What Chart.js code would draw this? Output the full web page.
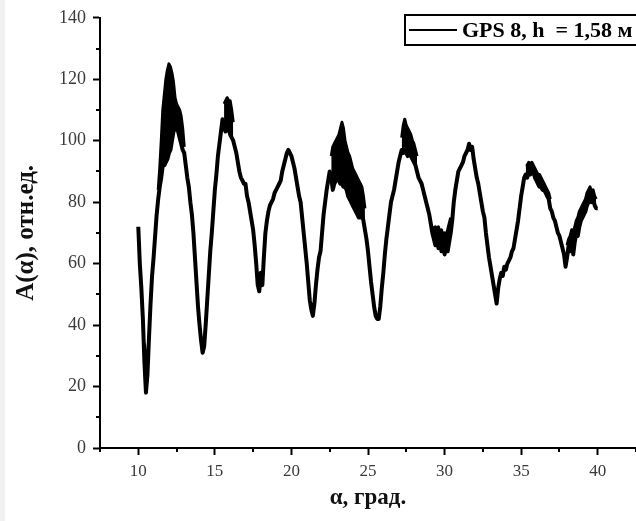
<!DOCTYPE html>
<html>
<head>
<meta charset="utf-8">
<script src="https://cdn.jsdelivr.net/npm/chart.js@4.4.1/dist/chart.umd.min.js"></script>
<style>
  html, body { margin: 0; padding: 0; background: #fff; }
  #wrap { position: relative; width: 636px; height: 521px; }
  #strip { position: absolute; left: 0; top: 0; width: 5px; height: 521px; background: #f1f1f1; }
</style>
</head>
<body>
<div id="wrap">
  <canvas id="chart"></canvas>
  <div id="strip"></div>
</div>
<script>
// угол, град.: от 10 до 40 с шагом 0.1
const angleStart = 10;
const angleStep = 0.1;

// A(α), отн.ед. — основная кривая (по 10 точек на градус)
const amplitude = [
  72, 60, 52, 42, 28, 18, 24, 36, 47, 56,      // 10
  62, 69, 76, 81, 85, 88, 92, 92, 93, 94,      // 11
  96, 97, 100, 103, 104, 105, 103, 101, 99, 97, // 12
  96, 92, 88, 85, 80, 76, 70, 62, 54, 46,      // 13
  40, 35, 31, 33, 40, 48, 56, 64, 70, 77,      // 14
  84, 89, 95, 99, 103, 107, 104, 103, 105, 104, // 15
  102, 101, 100, 98, 96, 93, 90, 88, 87, 86,   // 16
  86, 82, 80, 77, 74, 71, 66, 60, 53, 51,      // 17
  57, 53, 62, 70, 74, 77, 79, 80, 81, 83,      // 18
  84, 85, 86, 87, 90, 92, 94, 96, 97, 96,      // 19
  95, 93, 91, 88, 85, 82, 80, 75, 70, 65,      // 20
  60, 54, 48, 45, 43, 47, 53, 58, 62, 64,      // 21
  70, 76, 80, 84, 87, 90, 88, 84, 86, 87,      // 22
  88, 87, 86, 86, 85, 85, 84, 82, 81, 80,      // 23
  79, 78, 77, 76, 75, 75, 76, 74, 71, 68,      // 24
  64, 59, 54, 50, 46, 43, 42, 42, 46, 52,      // 25
  57, 63, 68, 72, 76, 80, 82, 84, 87, 90,      // 26
  93, 95, 97, 96, 97, 96, 95, 96, 95, 94,      // 27
  93, 92, 90, 88, 87, 86, 84, 82, 80, 78,      // 28
  76, 73, 70, 68, 66, 69, 65, 67, 64, 68,      // 29
  63, 66, 64, 67, 70, 74, 80, 84, 87, 90,      // 30
  91, 92, 93, 95, 96, 97, 99, 97, 98, 94,      // 31
  91, 88, 86, 83, 80, 77, 75, 70, 66, 62,      // 32
  59, 56, 53, 50, 47, 52, 55, 57, 56, 59,      // 33
  58, 60, 61, 62, 64, 65, 68, 71, 74, 78,      // 34
  82, 85, 88, 89, 88, 90, 89, 91, 90, 88,      // 35
  87, 86, 85, 85, 84, 84, 83, 82, 81, 78,      // 36
  77, 75, 74, 72, 70, 69, 67, 65, 63, 59,      // 37
  62, 66, 64, 68, 63, 67, 70, 69, 72, 74,      // 38
  75, 76, 77, 79, 80, 82, 80, 81, 79, 78,      // 39
  78                                           // 40
];

// верхняя граница шумовой полосы (там, где кривая "размыта")
const bandStarts = [10.4, 11.3, 15.6, 22.6, 27.2, 29.2, 35.3, 38.0];
const bandTops = [
  [34, 30, 32],
  [84, 91, 100, 110, 115, 120, 123, 125, 124, 122, 119, 114, 112, 111, 110, 108, 104, 98],
  [112, 113, 114, 113, 113, 110, 106],
  [95, 98, 99, 100, 101, 102, 104, 106, 104, 100, 98, 96, 95, 93, 91, 90, 89, 88, 87, 86, 85, 82, 78],
  [101, 105, 107, 105, 104, 103, 102, 100, 99, 97, 95],
  [72, 71, 72, 71, 72, 70, 71, 69, 70, 69, 71, 73, 75],
  [92, 92, 93, 92, 93, 92, 91, 90, 89, 89, 88, 87, 86, 85, 84, 83, 81],
  [66, 68, 69, 71, 70, 72, 74, 75, 77, 78, 79, 80, 81, 83, 84, 85, 83, 84, 82, 81]
];

const xTicks = [10, 15, 20, 25, 30, 35, 40];
const xMinorTicks = [7.5, 12.5, 17.5, 22.5, 27.5, 32.5, 37.5, 42.5];
const yTicks = [0, 20, 40, 60, 80, 100, 120, 140];
const yMinorTicks = [10, 30, 50, 70, 90, 110, 130];

const seriesLabel = 'GPS 8, h  = 1,58 м';
const serif = "'Liberation Serif', 'Times New Roman', serif";

const angleAt = i => +(angleStart + i * angleStep).toFixed(1);
const mainPoints = amplitude.map((y, i) => ({ x: angleAt(i), y: y }));

const topByIndex = new Array(amplitude.length).fill(null);
bandStarts.forEach((start, b) => {
  const i0 = Math.round((start - angleStart) / angleStep);
  bandTops[b].forEach((v, k) => { topByIndex[i0 + k] = v; });
});
const bandPoints = topByIndex.map((y, i) => ({ x: angleAt(i), y: y }));

// малые деления осей
const minorTicksPlugin = {
  id: 'minorTicks',
  afterDraw(chart) {
    const ctx = chart.ctx;
    const xs = chart.scales.x, ys = chart.scales.y;
    const area = chart.chartArea;
    ctx.save();
    ctx.strokeStyle = '#000';
    ctx.lineWidth = 2;
    ctx.beginPath();
    xMinorTicks.forEach(v => {
      const px = Math.round(xs.getPixelForValue(v));
      ctx.moveTo(px, area.bottom);
      ctx.lineTo(px, area.bottom + 4);
    });
    yMinorTicks.forEach(v => {
      const py = Math.round(ys.getPixelForValue(v));
      ctx.moveTo(area.left, py);
      ctx.lineTo(area.left - 4, py);
    });
    ctx.stroke();
    ctx.restore();
  }
};

// рамка легенды как в оригинале
const boxLegendPlugin = {
  id: 'boxLegend',
  afterDraw(chart) {
    const ctx = chart.ctx;
    const ds = chart.data.datasets[0];
    ctx.save();
    ctx.strokeStyle = '#000';
    ctx.lineWidth = 2;
    ctx.strokeRect(405, 15, 240, 30);
    ctx.beginPath();
    ctx.moveTo(409, 30);
    ctx.lineTo(457, 30);
    ctx.strokeStyle = ds.borderColor;
    ctx.stroke();
    ctx.fillStyle = '#000';
    ctx.font = 'bold 22px ' + serif;
    ctx.textBaseline = 'middle';
    ctx.fillText(ds.label, 462, 31);
    ctx.restore();
  }
};

const ctx = document.getElementById('chart').getContext('2d');
new Chart(ctx, {
  type: 'line',
  data: {
    datasets: [{
      label: seriesLabel,
      data: mainPoints,
      borderColor: '#000',
      borderWidth: 4,
      borderJoinStyle: 'round',
      pointRadius: 0,
      tension: 0,
      fill: false
    }, {
      label: '',
      data: bandPoints,
      borderColor: '#000',
      backgroundColor: '#000',
      borderWidth: 3,
      borderJoinStyle: 'round',
      pointRadius: 0,
      tension: 0,
      spanGaps: false,
      fill: '-1'
    }]
  },
  options: {
    responsive: true,
    maintainAspectRatio: false,
    animation: false,
    layout: { padding: { top: 17, right: 0, bottom: 0, left: 0 } },
    plugins: {
      legend: { display: false },
      tooltip: { enabled: false }
    },
    scales: {
      x: {
        type: 'linear',
        min: 7.5,
        max: 42.5,
        afterBuildTicks: scale => { scale.ticks = xTicks.map(v => ({ value: v })); },
        afterFit: scale => { scale.height = 73; },
        grid: {
          drawOnChartArea: false,
          tickLength: 7,
          tickWidth: 2,
          tickColor: '#000'
        },
        border: { color: '#000', width: 2 },
        ticks: {
          autoSkip: false,
          maxRotation: 0,
          padding: 6,
          color: '#3a3a3a',
          font: { family: serif, size: 17 }
        },
        title: {
          display: true,
          text: 'α, град.',
          color: '#111',
          padding: { top: 0, bottom: 9 },
          font: { family: serif, size: 23, weight: 'bold' }
        }
      },
      y: {
        min: 0,
        max: 140,
        afterBuildTicks: scale => { scale.ticks = yTicks.map(v => ({ value: v })); },
        afterFit: scale => { scale.width = 100; },
        grid: {
          drawOnChartArea: false,
          tickLength: 7,
          tickWidth: 2,
          tickColor: '#000'
        },
        border: { color: '#000', width: 2 },
        ticks: {
          padding: 7,
          color: '#3a3a3a',
          font: { family: serif, size: 18 }
        },
        title: {
          display: true,
          text: 'A(α), отн.ед.',
          color: '#111',
          padding: { top: 12, bottom: 0 },
          font: { family: serif, size: 25, weight: 'bold' }
        }
      }
    }
  },
  plugins: [minorTicksPlugin, boxLegendPlugin]
});
</script>
</body>
</html>
